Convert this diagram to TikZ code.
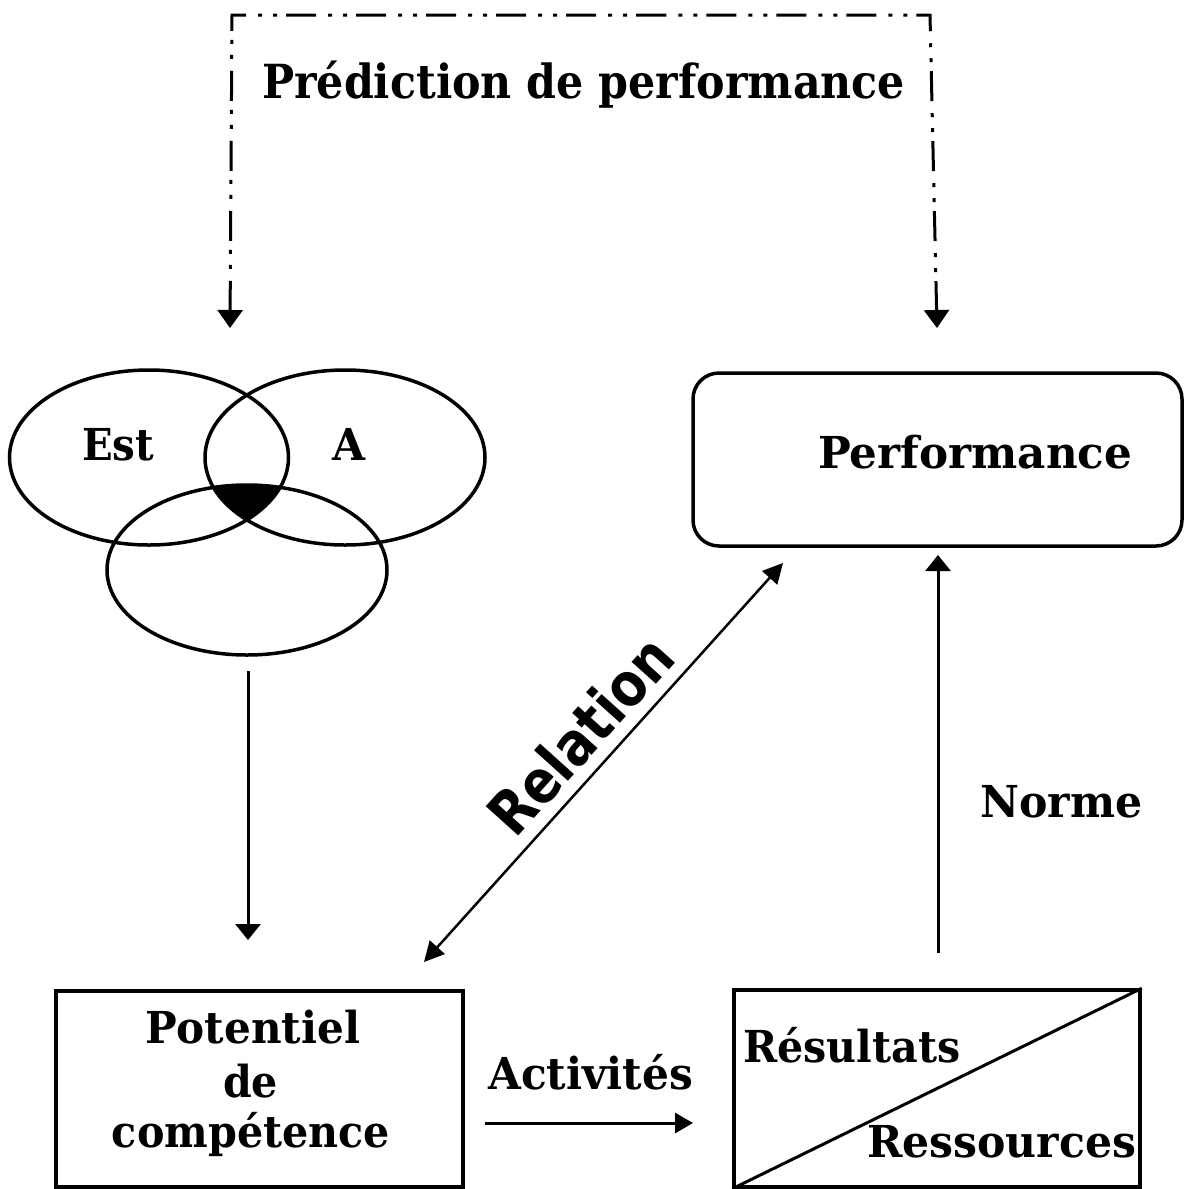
\documentclass[tikz,border=0pt]{standalone}
\usepackage{fontspec}
\setmainfont{DejaVu Serif}
\newfontfamily\relfont{DejaVu Sans}
\usepackage{graphicx}
\usetikzlibrary{arrows.meta}
\newcommand{\fitw}[2]{\resizebox{#1}{\height}{#2}}
\tikzset{
  lbl/.style={inner sep=0pt, anchor=base west, font=\fontsize{44}{44}\selectfont\bfseries},
  boxline/.style={draw, line width=3.5pt, inner sep=0pt},
  venn/.style={line width=3.5pt},
  arr/.style={line width=3pt, -{Triangle[width=25pt,length=16pt]}},
  dblarr/.style={line width=2.5pt, {Triangle[width=20pt,length=20pt]}-{Triangle[width=20pt,length=20pt]}},
  ddash/.style={line width=3pt, dash pattern=on 30pt off 12pt on 4pt off 11pt on 4pt off 9pt,
     {Triangle[width=25pt,length=18pt]}-{Triangle[width=25pt,length=18pt]}},
}
\begin{document}
\begin{tikzpicture}[x=1pt,y=-1pt]
\useasboundingbox (0,0) rectangle (1188,1189);

% title and prediction arrow
\node[lbl, font=\fontsize{47}{47}\selectfont\bfseries] (title) at (262,98) {\fitw{643pt}{Prédiction de performance}};
\coordinate (pl) at (230,328);
\coordinate (pr) at (937,328);
\coordinate (cl) at (232,15);
\coordinate (cr) at (930,15);
\draw[ddash] (pl) -- (cl) -- (cr) -- (pr);

% Venn diagram
\begin{scope}
  \clip (149,457.5) ellipse [x radius=139.5, y radius=87.5];
  \clip (345,457.5) ellipse [x radius=140, y radius=87.5];
  \fill (247,570) ellipse [x radius=140, y radius=85];
\end{scope}
\draw[venn] (149,457.5) ellipse [x radius=139.5, y radius=87.5];
\draw[venn] (345,457.5) ellipse [x radius=140, y radius=87.5];
\draw[venn] (247,570) ellipse [x radius=140, y radius=85];
\node[lbl] (est) at (82,460) {\fitw{72pt}{Est}};
\node[lbl] (a) at (332,460) {\fitw{33pt}{A}};

% Performance box
\node[boxline, rounded corners=26pt, minimum width=489pt, minimum height=173pt] (perf) at (937.5,459.5) {};
\node[lbl] (perft) at (818,468) {\fitw{314pt}{Performance}};

% Potentiel box
\node[boxline, minimum width=407pt, minimum height=196pt] (pot) at (259.5,1089) {};
\node[lbl, anchor=base] (pot1) at (253,1043) {\fitw{214pt}{Potentiel}};
\node[lbl, anchor=base] (pot2) at (250.5,1097) {\fitw{55pt}{de}};
\node[lbl, anchor=base] (pot3) at (251,1147) {\fitw{278pt}{compétence}};

% Resultats / Ressources box
\node[boxline, minimum width=406pt, minimum height=197pt] (res) at (937,1088.5) {};
\draw[line width=3pt] (res.south west) -- (res.north east);
\node[lbl] (rest) at (743,1062) {\fitw{217pt}{Résultats}};
\node[lbl] (ress) at (867,1157) {\fitw{269pt}{Ressources}};

% connectors
\coordinate (v0) at (248,671);
\coordinate (v1) at (248,940);
\draw[arr] (v0) -- (v1);

\coordinate (n0) at (938,953);
\coordinate (n1) at (938,555);
\draw[arr] (n0) -- (n1);
\node[lbl] (norme) at (980,817) {\fitw{162pt}{Norme}};

\coordinate (a0) at (485,1123);
\coordinate (a1) at (693,1123);
\draw[arr, -{Triangle[width=20pt,length=18pt]}] (a0) -- (a1);
\node[lbl] (act) at (488,1089) {\fitw{205pt}{Activités}};

\coordinate (r0) at (424,962);
\coordinate (r1) at (783,563);
\draw[dblarr] (r0) -- (r1);
\node[inner sep=0pt, rotate=48, font=\relfont\fontsize{60}{60}\selectfont\bfseries] (rel) at (580,735) {\fitw{242pt}{Relation}};
\end{tikzpicture}
\end{document}
